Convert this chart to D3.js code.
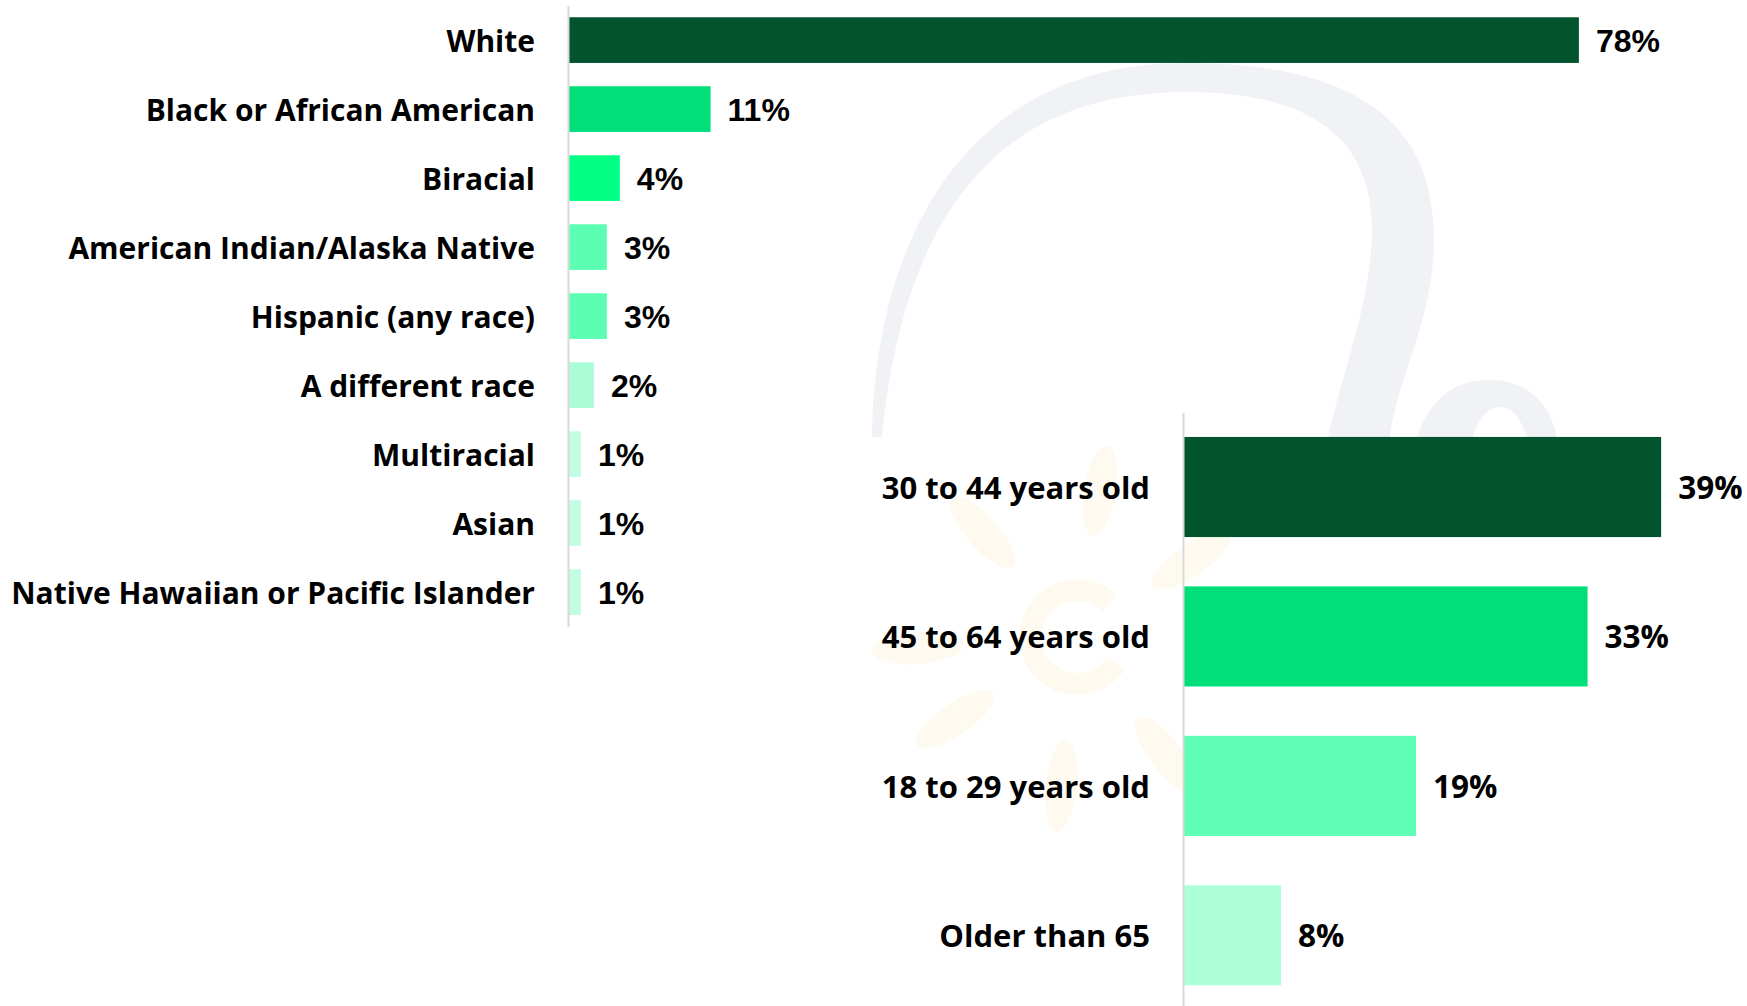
<!DOCTYPE html>
<html>
<head>
<meta charset="utf-8">
<script src="https://cdn.jsdelivr.net/npm/d3@7"></script>
<style>
  html, body { margin: 0; padding: 0; background: #ffffff; }
  svg { display: block; }
  .cat text { font-family: "Open Sans", "Noto Sans", sans-serif; font-weight: 700; fill: #000; }
  .val { font-weight: 700; fill: #000; }
</style>
</head>
<body>
<svg id="chart" width="1747" height="1006"></svg>
<script>
// Respondents by race / ethnicity (percent)
const raceCategories = [
  "White",
  "Black or African American",
  "Biracial",
  "American Indian/Alaska Native",
  "Hispanic (any race)",
  "A different race",
  "Multiracial",
  "Asian",
  "Native Hawaiian or Pacific Islander"
];
const raceValues = [78, 11, 4, 3, 3, 2, 1, 1, 1];
const raceColors = ["#02542f", "#00df7a", "#00ff84", "#5cffb2", "#5cffb2",
                    "#abfdd8", "#c2fde3", "#c2fde3", "#c2fde3"];

// Respondents by age group (percent)
const ageCategories = [
  "30 to 44 years old",
  "45 to 64 years old",
  "18 to 29 years old",
  "Older than 65"
];
const ageValues = [39, 33, 19, 8];
const ageColors = ["#02542f", "#00df7a", "#5effb4", "#adffd9"];

// Faint sun-ray emblem: ray angles (degrees clockwise from up) and distances
const rayAngles = [9, -42, -94, -124, 186, 143, 56];
const rayRadii  = [148, 141, 160, 147, 150, 147, 137];

const svg = d3.select("#chart");

// ---- faint background emblem ----
const deco = svg.append("g").attr("class", "emblem");
deco.append("path")
  .attr("fill", "#f1f2f6")
  .attr("d", "M872,437 C874,250 960,63 1185,63 C1380,63 1434,140 1434,240 C1434,320 1396,380 1390,437 " +
             "L1328,437 C1340,380 1372,300 1372,230 C1372,130 1300,92 1185,92 C1010,92 905,200 882,437 Z");
deco.append("path")
  .attr("fill", "#f1f2f6")
  .attr("d", "M1417,437 C1430,400 1452,380 1490,380 C1530,380 1550,405 1557,437 " +
             "L1527,437 C1522,420 1512,407 1500,407 C1488,407 1478,420 1473,437 Z");

const sun = deco.append("g").attr("transform", "translate(1077,637)").attr("fill", "#fffaf0");
sun.append("path")
  .attr("d", d3.arc()({innerRadius: 36, outerRadius: 58,
                       startAngle: Math.PI / 2 + 0.6, endAngle: Math.PI * 2.5 - 0.8}));
sun.selectAll("ellipse")
  .data(rayAngles)
  .join("ellipse")
  .attr("cx", 0)
  .attr("cy", (d, i) => -rayRadii[i])
  .attr("rx", 16)
  .attr("ry", 46)
  .attr("transform", d => `rotate(${d})`);

// ---- race chart ----
const raceY = d3.scaleBand()
  .domain(raceCategories)
  .range([5.6, 626.6])
  .paddingInner(0.338)
  .paddingOuter(0.169);
const raceX = d3.scaleLinear().domain([0, 100]).range([568, 568 + 1296]);

const raceG = svg.append("g");
raceG.selectAll("rect")
  .data(raceCategories)
  .join("rect")
  .attr("x", raceX(0))
  .attr("y", d => raceY(d))
  .attr("width", (d, i) => raceX(raceValues[i]) - raceX(0))
  .attr("height", raceY.bandwidth())
  .attr("fill", (d, i) => raceColors[i]);

raceG.selectAll("text.val")
  .data(raceCategories)
  .join("text")
  .attr("class", "val")
  .attr("x", (d, i) => raceX(raceValues[i]) + 17)
  .attr("y", d => raceY(d) + raceY.bandwidth() / 2)
  .attr("dy", "0.37em")
  .style("font-family", "'Liberation Sans', Arial, sans-serif")
  .style("font-size", "32px")
  .text((d, i) => raceValues[i] + "%");

const raceAxis = svg.append("g")
  .attr("class", "cat")
  .attr("transform", `translate(${raceX(0)},0)`)
  .call(d3.axisLeft(raceY).tickSize(0).tickSizeOuter(0).tickPadding(33));
raceAxis.select(".domain").attr("stroke", "#d9d9d9").attr("stroke-width", 2);
raceAxis.selectAll("text").attr("dy", "0.38em").style("font-size", "30px");

// ---- age chart ----
const ageY = d3.scaleBand()
  .domain(ageCategories)
  .range([412.3, 1010])
  .paddingInner(0.33)
  .paddingOuter(0.165);
const ageX = d3.scaleLinear().domain([0, 100]).range([1183, 1183 + 1226]);

const ageG = svg.append("g");
ageG.selectAll("rect")
  .data(ageCategories)
  .join("rect")
  .attr("x", ageX(0))
  .attr("y", d => ageY(d))
  .attr("width", (d, i) => ageX(ageValues[i]) - ageX(0))
  .attr("height", ageY.bandwidth())
  .attr("fill", (d, i) => ageColors[i]);

ageG.selectAll("text.val")
  .data(ageCategories)
  .join("text")
  .attr("class", "val")
  .attr("x", (d, i) => ageX(ageValues[i]) + 17)
  .attr("y", d => ageY(d) + ageY.bandwidth() / 2)
  .attr("dy", "0.38em")
  .style("font-family", "'Open Sans', 'Noto Sans', sans-serif")
  .style("font-size", "31.5px")
  .text((d, i) => ageValues[i] + "%");

const ageAxis = svg.append("g")
  .attr("class", "cat")
  .attr("transform", `translate(${ageX(0)},0)`)
  .call(d3.axisLeft(ageY).tickSize(0).tickSizeOuter(0).tickPadding(33));
ageAxis.select(".domain").attr("stroke", "#d9d9d9").attr("stroke-width", 2);
ageAxis.selectAll("text").attr("dy", "0.38em").style("font-size", "31px");
</script>
</body>
</html>
